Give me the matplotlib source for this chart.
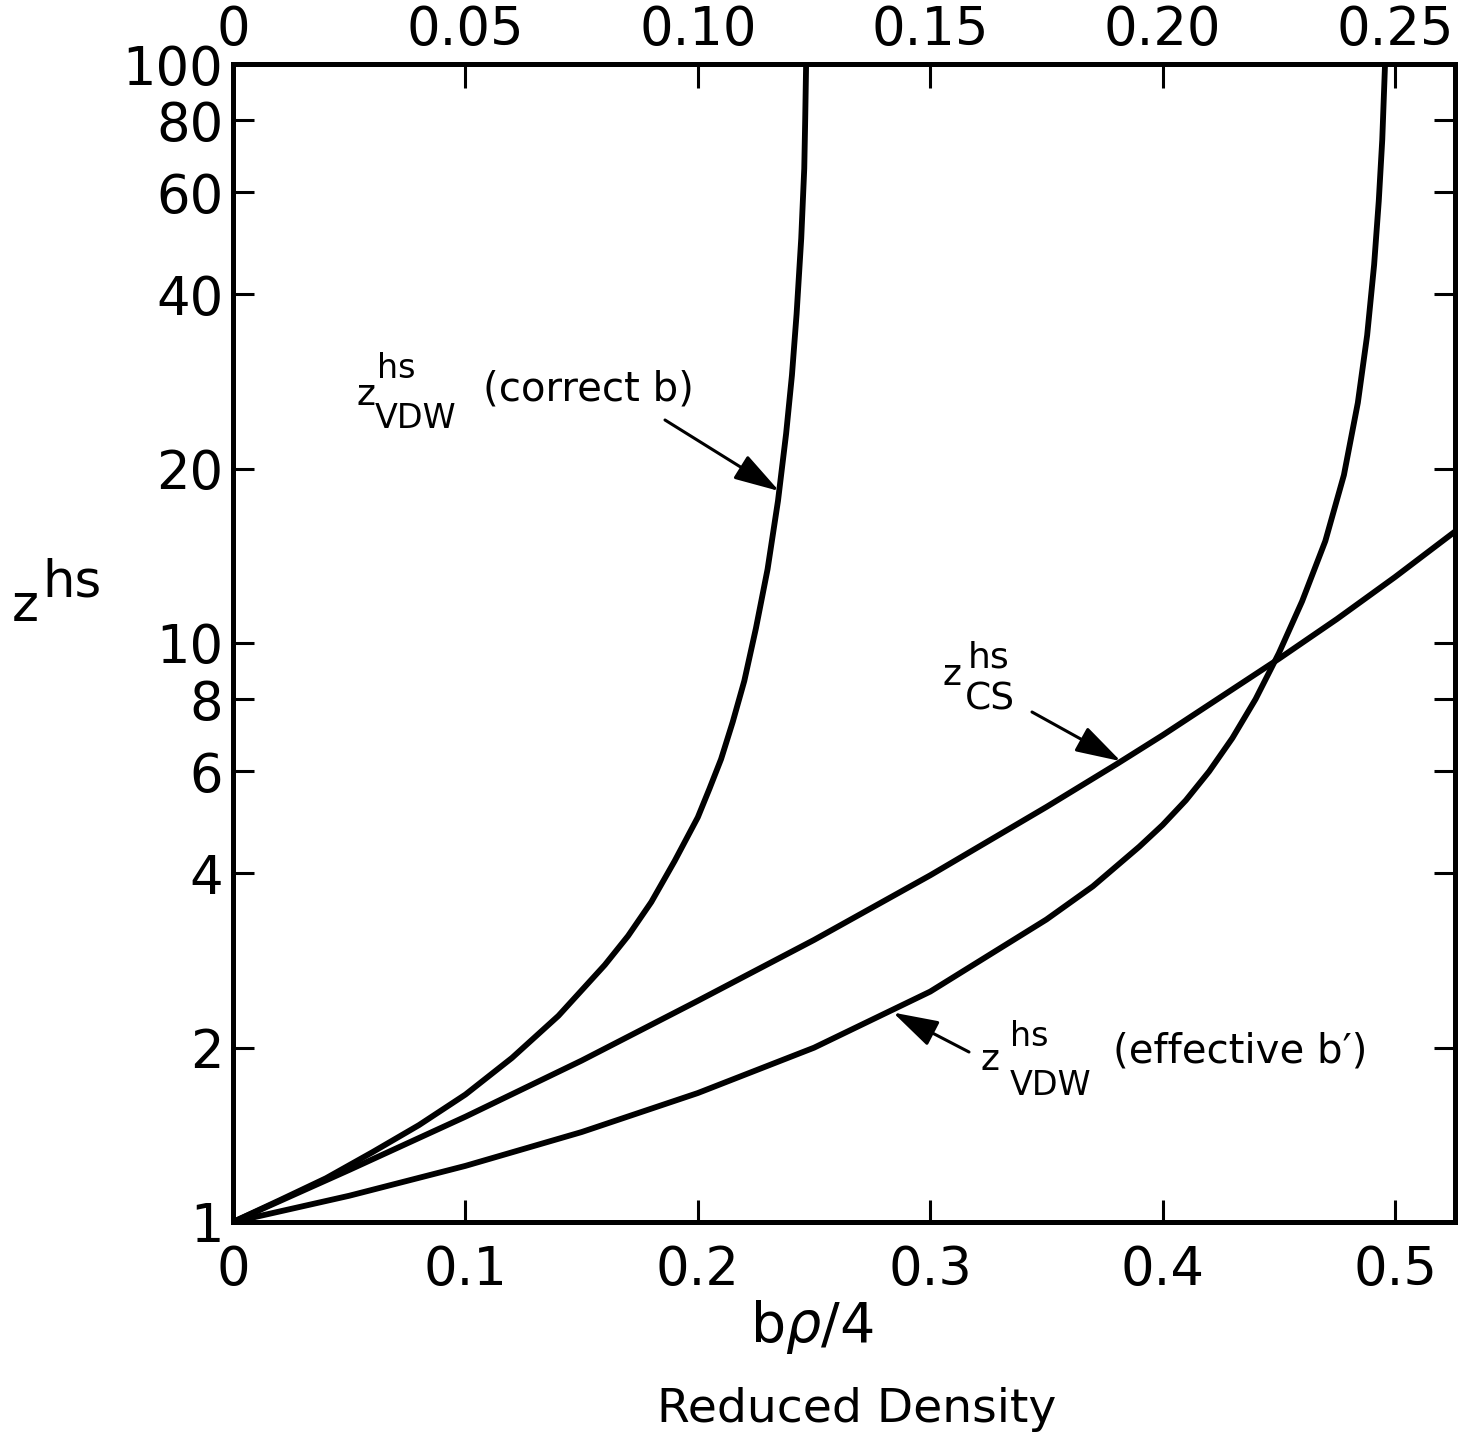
import matplotlib.pyplot as plt
from matplotlib.ticker import FixedLocator, FixedFormatter, NullLocator

plt.rcParams['font.family'] = ['DejaVu Sans']
plt.rcParams['mathtext.fontset'] = 'dejavusans'

# values: reduced density b*rho/4 and z^hs
x_vdw_b = [0, 0.02, 0.04, 0.06, 0.08, 0.10, 0.12, 0.14, 0.16, 0.17, 0.18, 0.19, 0.20,
           0.205, 0.21, 0.215, 0.22, 0.225, 0.23, 0.2345, 0.238, 0.2405, 0.2425,
           0.2445, 0.2458, 0.2462, 0.2466]
z_vdw_b = [1.0, 1.09, 1.19, 1.32, 1.47, 1.66, 1.92, 2.27, 2.78, 3.12, 3.57, 4.2, 5.0,
           5.6, 6.3, 7.3, 8.6, 10.6, 13.4, 17.6, 23, 29, 37,
           50, 66, 80, 100]

x_cs = [0, 0.05, 0.10, 0.15, 0.20, 0.25, 0.30, 0.35, 0.38, 0.40, 0.45, 0.475, 0.50, 0.526]
z_cs = [1.0, 1.23, 1.52, 1.90, 2.41, 3.07, 3.97, 5.21, 6.17, 6.93, 9.39, 11.0, 13.0, 15.6]

x_vdw_eff = [0, 0.05, 0.10, 0.15, 0.20, 0.25, 0.30, 0.35, 0.37, 0.39, 0.40, 0.41,
             0.42, 0.43, 0.44, 0.45, 0.46, 0.47, 0.478, 0.484, 0.488, 0.491,
             0.493, 0.4945, 0.4957]
z_vdw_eff = [1.0, 1.11, 1.25, 1.43, 1.67, 2.0, 2.5, 3.33, 3.8, 4.45, 4.85, 5.35,
             6.0, 6.85, 8.0, 9.6, 11.8, 15.0, 19.5, 26, 34, 45,
             58, 74, 100]

bottom_ticks = [0, 0.1, 0.2, 0.3, 0.4, 0.5]
bottom_labels = ['0', '0.1', '0.2', '0.3', '0.4', '0.5']
top_ticks = [0, 0.05, 0.10, 0.15, 0.20, 0.25]
top_labels = ['0', '0.05', '0.10', '0.15', '0.20', '0.25']
y_ticks = [1, 2, 4, 6, 8, 10, 20, 40, 60, 80, 100]
y_labels = ['1', '2', '4', '6', '8', '10', '20', '40', '60', '80', '100']

W, H = 1477, 1436
fig = plt.figure(figsize=(W / 100, H / 100), dpi=100)
ax = fig.add_axes([233 / W, 1 - 1222 / H, (1455 - 233) / W, (1222 - 64) / H])


def fp(x, y):
    # pixel position (from top-left) -> figure fraction
    return x / W, 1 - y / H


lw_curve = 4.2
for xs, zs in [(x_vdw_b, z_vdw_b), (x_cs, z_cs), (x_vdw_eff, z_vdw_eff)]:
    ax.plot(xs, zs, color='black', lw=lw_curve, solid_capstyle='round',
            solid_joinstyle='round')

ax.set_yscale('log')
ax.set_xlim(0, 0.5258)
ax.set_ylim(1, 100)
for s in ax.spines.values():
    s.set_linewidth(3.6)

ax.yaxis.set_major_locator(FixedLocator(y_ticks))
ax.yaxis.set_major_formatter(FixedFormatter(y_labels))
ax.yaxis.set_minor_locator(NullLocator())
ax.xaxis.set_major_locator(FixedLocator(bottom_ticks))
ax.xaxis.set_major_formatter(FixedFormatter(bottom_labels))
ax.tick_params(axis='y', which='major', direction='in', length=15, width=2.2,
               right=True, labelsize=38, pad=7)
ax.tick_params(axis='x', which='major', direction='in', length=16, width=2.2,
               labelsize=38, pad=16)

top = ax.secondary_xaxis('top', functions=(lambda x: x / 2, lambda x: x * 2))
top.xaxis.set_major_locator(FixedLocator(top_ticks))
top.xaxis.set_major_formatter(FixedFormatter(top_labels))
top.xaxis.set_minor_locator(NullLocator())
top.tick_params(direction='in', length=17, width=2.2, labelsize=38, pad=6)
top.spines['top'].set_linewidth(3.6)

# axis titles
fig.text(*fp(12, 621), 'z', fontsize=37, va='baseline')
fig.text(*fp(42, 597), 'hs', fontsize=37, va='baseline')
fig.text(*fp(812, 1342), r'b$\rho$/4', fontsize=40, ha='center', va='baseline')
fig.text(*fp(857, 1422), 'Reduced Density', fontsize=34, ha='center', va='baseline')

# curve labels
fig.text(*fp(357, 405), 'z', fontsize=26, va='baseline')
fig.text(*fp(377, 378), 'hs', fontsize=24, va='baseline')
fig.text(*fp(375, 428), 'VDW', fontsize=24, va='baseline')
fig.text(*fp(483, 401), '(correct b)', fontsize=29, va='baseline')

fig.text(*fp(943, 685), 'z', fontsize=26, va='baseline')
fig.text(*fp(968, 667), 'hs', fontsize=26, va='baseline')
fig.text(*fp(965, 710), 'CS', fontsize=27, va='baseline')

fig.text(*fp(981, 1070), 'z', fontsize=26, va='baseline')
fig.text(*fp(1010, 1046), 'hs', fontsize=24, va='baseline')
fig.text(*fp(1010, 1095), 'VDW', fontsize=24, va='baseline')
fig.text(*fp(1113, 1063), "(effective b\u2032)", fontsize=29, va='baseline')

arrow = dict(arrowstyle='-|>,head_length=0.4,head_width=0.12', lw=2.2,
             color='black', mutation_scale=70, shrinkA=0, shrinkB=0)
for tip, tail in [((0.235, 18.3), (665, 420)),
                  ((0.382, 6.25), (1032, 712)),
                  ((0.284, 2.3), (969, 1052))]:
    ax.annotate('', xy=tip, xycoords='data',
                xytext=fp(*tail), textcoords='figure fraction',
                arrowprops=arrow)

fig.savefig('out.png', dpi=100, facecolor='white')
